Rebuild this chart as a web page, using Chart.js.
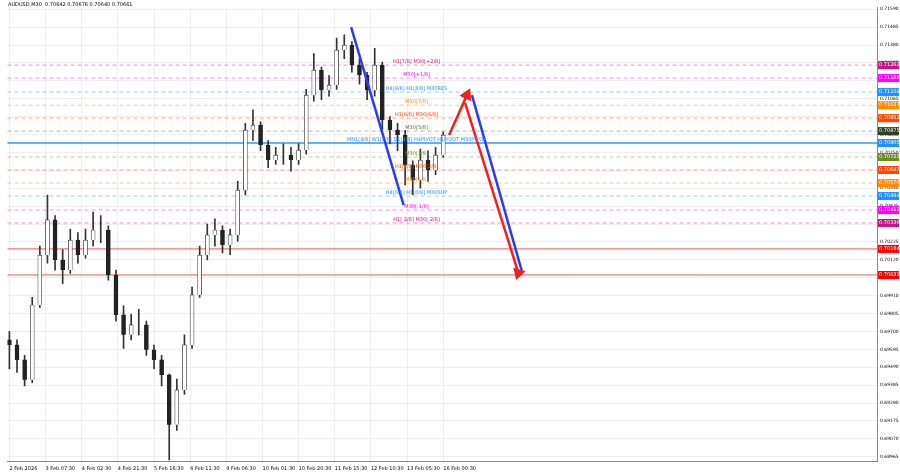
<!DOCTYPE html>
<html><head><meta charset="utf-8">
<script src="https://cdn.jsdelivr.net/npm/chart.js@4/dist/chart.umd.min.js"></script>
<style>body{margin:0;background:#fff}#wrap{width:900px;height:474px;position:relative}</style>
</head><body><div id="wrap"><canvas id="c"></canvas></div>
<script>
// 4-hour candles, x in hours from 2 Feb 2026 00:00
const closes = [0.69621,0.69533,0.69416,0.69855,0.70148,0.70354,0.70119,0.70061,0.70236,0.70148,
  0.70236,0.70295,0.70295,0.70031,0.69797,0.69680,0.69738,0.69738,0.69592,0.69533,
  0.69445,0.69152,0.69357,0.69621,0.69914,0.70148,0.70266,0.70295,0.70207,0.70266,
  0.70529,0.70881,0.70910,0.70793,0.70705,0.70734,0.70734,0.70705,0.70764,0.71086,
  0.71233,0.71115,0.71145,0.71350,0.71379,0.71262,0.71203,0.71115,0.71262,0.70940,
  0.70881,0.70852,0.70676,0.70588,0.70705,0.70647,0.70734,0.70852];
const highs = [0.69700,0.69650,0.69560,0.69900,0.70200,0.70500,0.70380,0.70180,0.70300,0.70280,
  0.70300,0.70400,0.70380,0.70320,0.70060,0.69850,0.69800,0.69830,0.69760,0.69620,
  0.69560,0.69450,0.69420,0.69680,0.69960,0.70200,0.70330,0.70360,0.70320,0.70300,
  0.70580,0.70920,0.71000,0.70930,0.70820,0.70780,0.70800,0.70780,0.70800,0.71120,
  0.71330,0.71250,0.71200,0.71420,0.71440,0.71400,0.71300,0.71220,0.71360,0.71280,
  0.70960,0.70920,0.70880,0.70700,0.70770,0.70760,0.70780,0.70870];
const lows = [0.69480,0.69460,0.69380,0.69400,0.69840,0.70100,0.70060,0.69980,0.70040,0.70100,
  0.70130,0.70200,0.70220,0.70000,0.69760,0.69600,0.69650,0.69680,0.69560,0.69480,
  0.69380,0.68947,0.69120,0.69330,0.69600,0.69900,0.70120,0.70200,0.70160,0.70150,
  0.70230,0.70500,0.70820,0.70760,0.70660,0.70680,0.70680,0.70640,0.70680,0.70740,
  0.71050,0.71060,0.71080,0.71120,0.71300,0.71220,0.71150,0.71060,0.71080,0.70880,
  0.70800,0.70760,0.70560,0.70500,0.70540,0.70580,0.70620,0.70720];

const timeLabels = ['2 Feb 2026','3 Feb 07:30','4 Feb 02:30','4 Feb 21:30','5 Feb 16:30','6 Feb 11:30',
  '9 Feb 06:30','10 Feb 01:30','10 Feb 20:30','11 Feb 15:30','12 Feb 10:30','13 Feb 05:30','16 Feb 00:30'];
const priceTicks = [0.71590,0.71485,0.71380,0.71275,0.71170,0.71065,0.70960,0.70855,0.70750,0.70645,0.70540,
  0.70435,0.70330,0.70225,0.70120,0.70015,0.69910,0.69805,0.69700,0.69595,0.69490,0.69385,0.69280,0.69175,0.69070,0.68965];

const levelPrices = [0.71262,0.71186,0.71104,0.71027,0.70951,0.70875,0.70805,0.70723,0.70647,0.70570,0.70494,0.70412,0.70336,0.70184,0.70031];
const levelColors = ['#c71585','#ff00ff','#1e90ff','#ff8c00','#ff4500','#556b2f','#1e90ff','#6b8e23','#ff4500','#ff8c00','#1e90ff','#ff00ff','#c71585','#ff0000','#ff0000'];
const levelTexts = ['H1[7/8] M30[+2/8]','M30[+1/8]','H4[8/8] H1[8/8] M30RES','M30[7/8]','H1[6/8] M30[6/8]','M30[5/8]',
  'MN1[4/8] W1[4/8] D1[4/8] H4PIVOT H1PIVOT M30PIVOT','M30[3/8]','H1[2/8] M30[2/8]','M30[1/8]','H4[0/8] H1[0/8] M30SUP','M30[-1/8]','H1[-2/8] M30[-2/8]','',''];

const blueLine1 = [{x:179.6,y:0.71485},{x:207.2,y:0.70441}];
const blueLine2 = [{x:243.1,y:0.71086},{x:269.6,y:0.70043}];
const redArrow = [{x:231.1,y:0.70852},{x:240.5,y:0.71086}];
const redLine = [{x:239.5,y:0.71040},{x:267.5,y:0.70043}];

const hoursPerCandle = 4, tickStep = 19;
const bodies = closes.map((c,i)=>({x:i*hoursPerCandle,y:[i?closes[i-1]:c+0.0003,c]}));
const wicks = closes.map((c,i)=>({x:i*hoursPerCandle,y:[lows[i],highs[i]]}));
const bodyFill = bodies.map(b=>b.y[1]>=b.y[0]?'#ffffff':'#222222');

const overlay = {
  id:'overlay',
  beforeDatasetsDraw(chart){
    const {ctx,chartArea:a,scales:{y}} = chart;
    ctx.save();
    levelPrices.forEach((p,i)=>{
      const py = y.getPixelForValue(p);
      ctx.strokeStyle = levelColors[i];
      ctx.globalAlpha = i===6||i>12 ? 0.7 : 0.45;
      ctx.lineWidth = i===6 ? 2 : 1;
      ctx.setLineDash(i>12||i===6 ? [] : [4,3]);
      ctx.beginPath(); ctx.moveTo(a.left,py); ctx.lineTo(a.right,py); ctx.stroke();
    });
    ctx.restore();
  },
  afterDraw(chart){
    const {ctx,chartArea:a,scales:{x,y}} = chart;
    ctx.save();
    ctx.font = '5px "DejaVu Sans"';
    ctx.textAlign = 'center'; ctx.textBaseline = 'bottom';
    const lx = x.getPixelForValue(214);
    levelPrices.forEach((p,i)=>{
      const py = y.getPixelForValue(p);
      if(levelTexts[i]){ctx.fillStyle = levelColors[i]; ctx.fillText(levelTexts[i],lx,py-1);}
      ctx.fillStyle = i===5 ? '#2f3f1f' : levelColors[i];
      ctx.fillRect(a.right+1,py-4,21,8);
      ctx.fillStyle = '#fff'; ctx.textAlign='left'; ctx.textBaseline='middle';
      ctx.fillText(p.toFixed(5),a.right+2,py);
      ctx.textAlign='center'; ctx.textBaseline='bottom';
    });
    ctx.fillStyle='#000'; ctx.textAlign='left'; ctx.textBaseline='top';
    ctx.fillText('AUDUSD,M30  0.70642 0.70676 0.70640 0.70661',8,2);
    ctx.restore();
  }
};

new Chart(document.getElementById('c'),{
  type:'bar',
  data:{datasets:[
    {data:wicks,backgroundColor:'#333',barThickness:1,grouped:false,order:3},
    {data:bodies,backgroundColor:bodyFill,borderColor:'#222',borderWidth:0.7,barThickness:4,grouped:false,order:2},
    {type:'line',data:blueLine1,borderColor:'#2a3cf0',borderWidth:2.5,pointRadius:0,order:1},
    {type:'line',data:blueLine2,borderColor:'#2a3cf0',borderWidth:2.5,pointRadius:0,order:1},
    {type:'line',data:redArrow,borderColor:'#f02020',borderWidth:2.5,pointRadius:[0,5],pointStyle:'triangle',rotation:25,backgroundColor:'#f02020',order:0},
    {type:'line',data:redLine,borderColor:'#f02020',borderWidth:2.5,pointRadius:[0,5],pointStyle:'triangle',rotation:197,backgroundColor:'#f02020',order:0}
  ]},
  plugins:[overlay],
  options:{
    animation:false,responsive:true,maintainAspectRatio:false,
    layout:{padding:{top:2,left:0}},
    plugins:{legend:{display:false},tooltip:{enabled:false}},
    scales:{
      x:{type:'linear',min:-1,max:456,offset:false,
        afterBuildTicks(s){s.ticks=timeLabels.map((_,i)=>({value:i*tickStep}));},
        ticks:{callback:(v)=>timeLabels[Math.round(v/tickStep)],maxRotation:0,autoSkip:false,align:'start',font:{size:5,family:'DejaVu Sans'},color:'#000',padding:2},
        grid:{color:'#eeeeee',drawTicks:true,tickLength:3,offset:false},border:{color:'#888'}},
      y:{position:'right',min:0.68940,max:0.71600,
        afterBuildTicks(s){s.ticks=priceTicks.map(v=>({value:v}));},
        ticks:{callback:v=>v.toFixed(5),font:{size:4.5,family:'DejaVu Sans'},color:'#000',padding:1},
        grid:{color:'#eeeeee',tickLength:2},border:{color:'#888'},afterFit(s){s.width=23;}}
    }
  }
});
</script></body></html>
